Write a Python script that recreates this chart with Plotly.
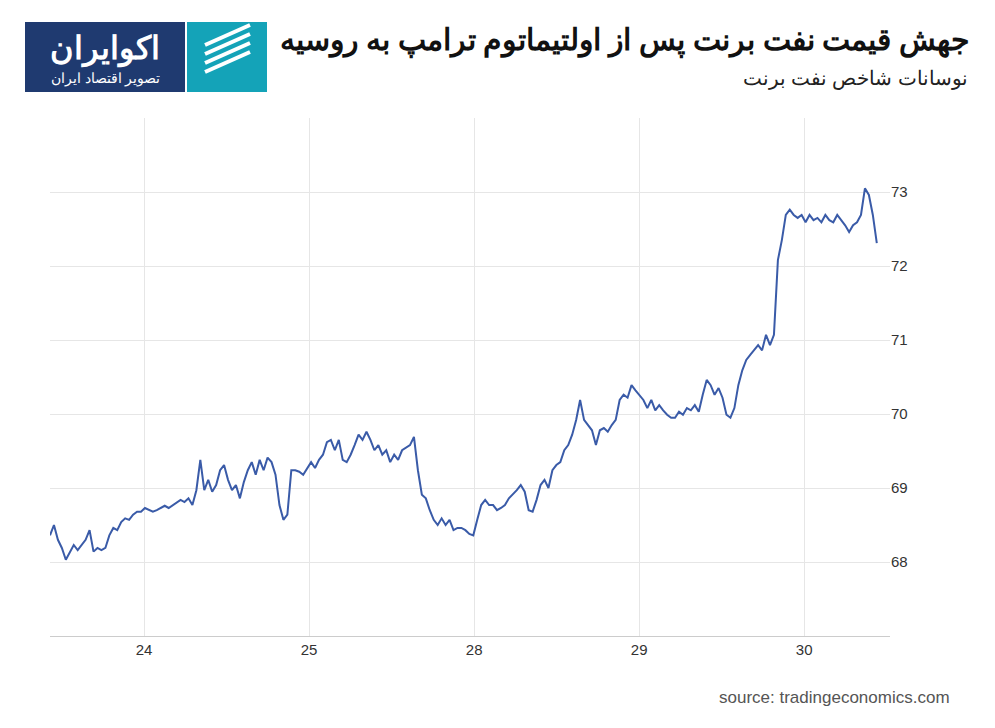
import numpy as np
import plotly.graph_objects as go

tick_vals = [1, 2, 3, 4, 5]
tick_text = ["24", "25", "28", "29", "30"]
y_ticks = [68, 69, 70, 71, 72, 73]

price = [68.36,68.50,68.30,68.19,68.03,68.14,68.23,68.16,68.23,68.30,68.43,68.14,68.19,68.16,68.19,68.36,68.46,68.43,68.54,68.59,
68.57,68.64,68.68,68.68,68.73,68.70,68.68,68.70,68.73,68.76,68.73,68.77,68.81,68.84,68.81,68.86,68.77,68.97,69.38,68.97,
69.11,68.95,69.04,69.24,69.31,69.11,68.97,69.04,68.86,69.08,69.24,69.35,69.18,69.38,69.24,69.41,69.35,69.18,68.77,68.57,
68.64,69.24,69.24,69.22,69.18,69.27,69.35,69.27,69.38,69.45,69.62,69.65,69.51,69.65,69.38,69.35,69.45,69.58,69.72,69.65,
69.76,69.65,69.51,69.58,69.45,69.51,69.35,69.45,69.38,69.51,69.54,69.58,69.69,69.24,68.91,68.86,68.70,68.57,68.50,68.59,
68.50,68.57,68.43,68.46,68.46,68.43,68.38,68.36,68.57,68.77,68.84,68.77,68.77,68.70,68.73,68.77,68.86,68.91,68.97,69.04,
68.95,68.70,68.68,68.84,69.04,69.11,69.00,69.24,69.31,69.35,69.51,69.58,69.72,69.92,70.19,69.92,69.85,69.78,69.58,69.78,
69.81,69.76,69.85,69.92,70.19,70.26,70.22,70.39,70.32,70.26,70.19,70.08,70.19,70.05,70.12,70.05,69.99,69.95,69.95,70.03,
69.99,70.08,70.05,70.12,70.03,70.26,70.46,70.39,70.26,70.35,70.22,69.99,69.95,70.08,70.39,70.59,70.73,70.80,70.86,70.93,
70.86,71.07,70.93,71.07,72.08,72.35,72.69,72.76,72.69,72.65,72.69,72.59,72.69,72.62,72.65,72.59,72.69,72.62,72.59,72.69,
72.62,72.55,72.46,72.55,72.59,72.69,73.05,72.96,72.69,72.31]

# evenly spaced intraday timestamps (trading-day index)
t = np.linspace(0.43, 5.44, len(price))

fig = go.Figure(go.Scatter(x=t, y=price, mode="lines",
                           line=dict(color="#3a5ba8", width=2), hoverinfo="skip"))

def px(x):
    return (x - 50) / 840
def py(y):
    return (636 - y) / 518

shapes = [
    dict(type="rect", xref="paper", yref="paper", x0=px(25), x1=px(185), y0=py(92), y1=py(22),
         fillcolor="#1f3a70", line_width=0, layer="above"),
    dict(type="rect", xref="paper", yref="paper", x0=px(187), x1=px(267), y0=py(92), y1=py(22),
         fillcolor="#14a3b8", line_width=0, layer="above"),
]
for i in range(4):
    shapes.append(dict(type="line", xref="paper", yref="paper",
                       x0=px(205), x1=px(250), y0=py(72 - i*9), y1=py(52 - i*9),
                       line=dict(color="white", width=4)))

ann = [
    dict(text="<b>جهش قیمت نفت برنت پس از اولتیماتوم ترامپ به روسیه</b>", xref="paper", yref="paper",
         x=px(972), y=py(38), xanchor="right", yanchor="middle", showarrow=False,
         font=dict(size=30, color="#111", family="Noto Sans")),
    dict(text="نوسانات شاخص نفت برنت", xref="paper", yref="paper",
         x=px(970), y=py(78), xanchor="right", yanchor="middle", showarrow=False,
         font=dict(size=20, color="#222", family="Noto Sans")),
    dict(text="<b>اکوایران</b>", xref="paper", yref="paper",
         x=px(105), y=py(46), xanchor="center", yanchor="middle", showarrow=False,
         font=dict(size=32, color="white", family="Noto Sans")),
    dict(text="تصویر اقتصاد ایران", xref="paper", yref="paper",
         x=px(105), y=py(78), xanchor="center", yanchor="middle", showarrow=False,
         font=dict(size=14, color="white", family="Noto Sans")),
    dict(text="source: tradingeconomics.com", xref="paper", yref="paper",
         x=px(952), y=py(697), xanchor="right", yanchor="middle", showarrow=False,
         font=dict(size=17, color="#555", family="Liberation Sans")),
]

fig.update_layout(
    width=995, height=728, margin=dict(l=42, r=113, t=110, b=100),
    paper_bgcolor="white", plot_bgcolor="white", showlegend=False,
    shapes=shapes, annotations=ann,
    xaxis=dict(range=[0.43, 5.52], tickvals=tick_vals, ticktext=tick_text,
               showgrid=True, gridcolor="#e6e6e6", zeroline=False,
               showline=True, linecolor="#cccccc",
               tickfont=dict(size=15, color="#333", family="Liberation Sans")),
    yaxis=dict(range=[67, 74], tickvals=y_ticks, side="right",
               showgrid=True, gridcolor="#e6e6e6", zeroline=False,
               tickfont=dict(size=15, color="#333", family="Liberation Sans")),
)
fig.write_html("out.html")
